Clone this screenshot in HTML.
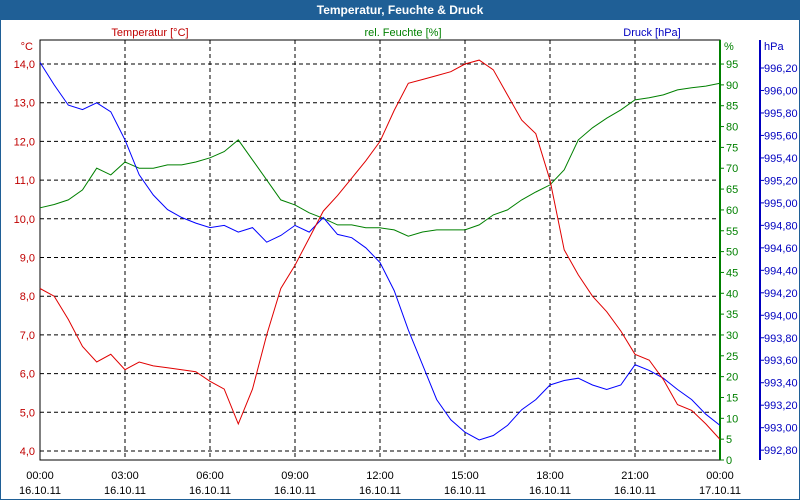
<!DOCTYPE html>
<html><head><meta charset="utf-8"><style>
body{margin:0;background:#fff;font-family:"Liberation Sans",sans-serif}
svg{display:block}
</style></head><body>
<svg id="c" width="800" height="500" font-family="Liberation Sans, sans-serif" font-size="11">
<rect x="0" y="0" width="800" height="500" fill="#fff" stroke="#1f5f96" stroke-width="2"/>
<rect x="0" y="0" width="800" height="20" fill="#1f5f96"/>
<text x="400" y="14" text-anchor="middle" fill="#fff" font-weight="bold" font-size="12">Temperatur, Feuchte &amp; Druck</text>
<text x="150" y="36" text-anchor="middle" fill="#c00000">Temperatur [°C]</text>
<text x="403" y="36" text-anchor="middle" fill="#008000">rel. Feuchte [%]</text>
<text x="652" y="36" text-anchor="middle" fill="#0000c0">Druck [hPa]</text>
<text x="33" y="50" text-anchor="end" fill="#c00000">°C</text>
<text x="724" y="50" fill="#008000">%</text>
<text x="764" y="50" fill="#0000c0">hPa</text>
<g id="grid"></g><g id="axes"></g><g id="series"></g>
</svg>
<script>
const hours=[0,0.5,1,1.5,2,2.5,3,3.5,4,4.5,5,5.5,6,6.5,7,7.5,8,8.5,9,9.5,10,10.5,11,11.5,12,12.5,13,13.5,14,14.5,15,15.5,16,16.5,17,17.5,18,18.5,19,19.5,20,20.5,21,21.5,22,22.5,23,23.5,24];
const temperature=[8.2,8.0,7.4,6.7,6.3,6.5,6.1,6.3,6.2,6.15,6.1,6.05,5.8,5.6,4.7,5.6,7.0,8.2,8.8,9.5,10.2,10.6,11.05,11.5,12.0,12.8,13.5,13.6,13.7,13.8,14.0,14.1,13.85,13.2,12.55,12.2,11.0,9.2,8.55,8.0,7.6,7.1,6.5,6.35,5.85,5.2,5.05,4.7,4.3];
const humidity=[60.5,61.3,62.4,64.8,70,68.4,71.5,70,70,70.8,70.8,71.5,72.5,74,76.8,72,67.2,62.4,61.2,59.3,58,56.4,56.4,55.7,55.7,55.2,53.7,54.7,55.2,55.2,55.2,56.4,58.8,60,62.4,64.3,66,69.6,76.8,79.7,82,84,86.4,86.9,87.6,88.8,89.3,89.7,90.4];
const pressure=[996.25,996.05,995.87,995.83,995.89,995.81,995.56,995.25,995.07,994.94,994.87,994.82,994.78,994.80,994.74,994.78,994.65,994.71,994.80,994.74,994.87,994.72,994.69,994.60,994.47,994.22,993.87,993.56,993.25,993.07,992.96,992.89,992.93,993.02,993.16,993.25,993.38,993.42,993.44,993.38,993.34,993.38,993.56,993.51,993.44,993.34,993.25,993.12,993.02];
const tempTicks=["4,0","5,0","6,0","7,0","8,0","9,0","10,0","11,0","12,0","13,0","14,0"];
const humTicks=[0,5,10,15,20,25,30,35,40,45,50,55,60,65,70,75,80,85,90,95];
const presTicks=["992,80","993,00","993,20","993,40","993,60","993,80","994,00","994,20","994,40","994,60","994,80","995,00","995,20","995,40","995,60","995,80","996,00","996,20"];
const timeTicks=["00:00","03:00","06:00","09:00","12:00","15:00","18:00","21:00","00:00"];
const dateTicks=["16.10.11","16.10.11","16.10.11","16.10.11","16.10.11","16.10.11","16.10.11","16.10.11","17.10.11"];
const L=40,R=720,T=40,B=460;
const xS=h=>L+h*(R-L)/24;
const yT=v=>451-(v-4)*38.7;
const yH=v=>460-v*4.168;
const yP=v=>68+(996.2-v)*112.4;
const ns="http://www.w3.org/2000/svg";
function mk(tag,attrs,parent,txt){const e=document.createElementNS(ns,tag);for(const k in attrs)e.setAttribute(k,attrs[k]);if(txt!==undefined)e.textContent=txt;document.getElementById(parent).appendChild(e);return e;}
tempTicks.forEach(t=>{const y=yT(parseFloat(t.replace(',','.')));
 const g=mk('line',{x1:L,x2:R,y1:y,y2:y,stroke:'#000','stroke-dasharray':'4,3'},'grid');
 
 
 const l=mk('text',{x:35,y:y+4,'text-anchor':'end',fill:'#c00000'},'axes',t);
 
 });
timeTicks.forEach((t,i)=>{const x=xS(i*3);
 if(i>0&&i<8){const g=mk('line',{x1:x,x2:x,y1:T,y2:B,stroke:'#000','stroke-dasharray':'4,3'},'grid');
 
 }
 const a=mk('text',{x:x,y:479,'text-anchor':'middle',fill:'#000'},'axes',t);
 
 
 const b=mk('text',{x:x,y:494,'text-anchor':'middle',fill:'#000'},'axes',dateTicks[i]);
 
 });
humTicks.forEach(v=>{const y=yH(v);
 const tk=mk('line',{x1:R,x2:R+4,y1:y,y2:y,stroke:'#008000'},'axes');
 
 
 const l=mk('text',{x:R+6,y:y+4,fill:'#008000'},'axes',String(v));
 
 });
presTicks.forEach(t=>{const y=yP(parseFloat(t.replace(',','.')));
 const tk=mk('line',{x1:760,x2:764,y1:y,y2:y,stroke:'#0000c0'},'axes');
 
 
 const l=mk('text',{x:764,y:y+4,fill:'#0000c0'},'axes',t);
 
 });
const frame=mk('rect',{x:L,y:T,width:R-L,height:B-T,fill:'none',stroke:'#000'},'axes');


const ga=mk('line',{x1:R,x2:R,y1:T,y2:B,stroke:'#008000','stroke-width':2},'axes');


const pa=mk('line',{x1:760,x2:760,y1:T,y2:B,stroke:'#0000c0','stroke-width':2},'axes');


function line(vals,yf,col,name){const d=vals.map((v,i)=>(i?'L':'M')+xS(hours[i]).toFixed(1)+','+yf(v).toFixed(1)).join('');
 const p=mk('path',{d:d,fill:'none',stroke:col,'stroke-width':1},'series');
 
 }
line(humidity,yH,'#008000','humidity-line');
line(pressure,yP,'#0000ff','pressure-line');
line(temperature,yT,'#e00000','temperature-line');
</script>
</body></html>
